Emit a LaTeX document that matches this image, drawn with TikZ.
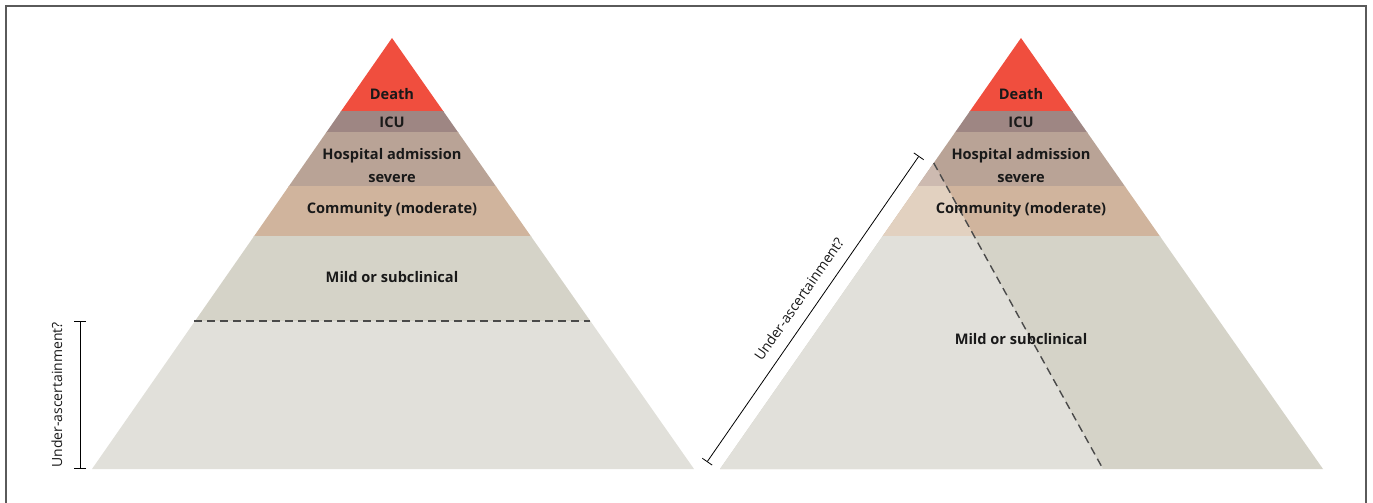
\documentclass[tikz,border=0pt]{standalone}
\usepackage{fontspec}
\setmainfont{Open Sans}
\usetikzlibrary{arrows.meta}
\definecolor{cdeath}{HTML}{F04E3E}
\definecolor{cicu}{HTML}{9E8683}
\definecolor{chosp}{HTML}{B9A396}
\definecolor{ccomm}{HTML}{D0B49D}
\definecolor{cmild}{HTML}{D5D3C8}
\definecolor{clow}{HTML}{E1E0DA}
\definecolor{chospl}{HTML}{CDBAB0}
\definecolor{ccomml}{HTML}{E2D1C0}
\definecolor{cframe}{HTML}{5A5A5A}
\definecolor{cdash}{HTML}{4A4A4A}
\begin{document}
\begin{tikzpicture}[x=1pt,y=-1pt,
  lab/.style={font=\fontsize{14.6}{23}\selectfont\bfseries, text=black!90, align=center, inner sep=0pt},
  brk/.style={line width=0.8pt, {Bar[width=12pt]}-{Bar[width=12pt]}},
  brklab/.style={font=\fontsize{14}{16}\selectfont, text=black!90},
  dashline/.style={draw=cdash, line width=1.4pt, dash pattern=on 8pt off 5pt}]
\useasboundingbox (0,0) rectangle (1373,503);
% frame
\draw[cframe, line width=1.6pt] (6,503) -- (6,6) -- (1366,6) -- (1366,503);
% ---------- left pyramid
\coordinate (LA) at (392,38);
\coordinate (LL) at (92,469);
\coordinate (LR) at (694,469);
\begin{scope}
\clip (LA) -- (LR) -- (LL) -- cycle;
\fill[cdeath] (80,30) rectangle (700,111.5);
\fill[cicu] (80,111) rectangle (700,132.5);
\fill[chosp] (80,132) rectangle (700,186.5);
\fill[ccomm] (80,186) rectangle (700,236.5);
\fill[cmild] (80,236) rectangle (700,321.5);
\fill[clow] (80,321) rectangle (700,470);
\end{scope}
\coordinate (LD1) at (194.4,321);
\coordinate (LD2) at (589.6,321);
\draw[dashline] (LD1) -- (LD2);
\node[lab] (ldeath) at (392,94) {Death};
\node[lab] (licu) at (392,122) {ICU};
\node[lab] (lhosp) at (392,165.5) {Hospital admission\\severe};
\node[lab] (lcomm) at (392,210) {Community (moderate)};
\node[lab] (lmild) at (392,277) {Mild or subclinical};
% left bracket
\coordinate (LB1) at (80,469);
\coordinate (LB2) at (80,321);
\draw[brk] (LB1) -- (LB2) node[midway, above, sloped, brklab, yshift=14pt] (lunder) {Under-ascertainment?};
% ---------- right pyramid
\coordinate (RA) at (1021,38);
\coordinate (RL) at (720,469);
\coordinate (RR) at (1323,469);
\coordinate (RD1) at (933.7,163);
\coordinate (RD2) at (1103,469);
\begin{scope}
\clip (RA) -- (RR) -- (RL) -- cycle;
\fill[cdeath] (700,30) rectangle (1330,111.5);
\fill[cicu] (700,111) rectangle (1330,132.5);
\fill[chosp] (700,132) rectangle (1330,186.5);
\fill[ccomm] (700,186) rectangle (1330,236.5);
\fill[cmild] (700,236) rectangle (1330,470);
\begin{scope}
\clip (RD1) -- (RD2) -- (700,470) -- (700,163) -- cycle;
\fill[chospl] (700,160) rectangle (1330,186.5);
\fill[ccomml] (700,186) rectangle (1330,236.5);
\fill[clow] (700,236) rectangle (1330,470);
\end{scope}
\end{scope}
\draw[dashline] (RD1) -- (RD2);
\node[lab] (rdeath) at (1021,94) {Death};
\node[lab] (ricu) at (1021,122) {ICU};
\node[lab] (rhosp) at (1021,165.5) {Hospital admission\\severe};
\node[lab] (rcomm) at (1021,210) {Community (moderate)};
\node[lab] (rmild) at (1021,339) {Mild or subclinical};
% right bracket
\coordinate (RB1) at (707,462);
\coordinate (RB2) at (919,156);
\draw[brk] (RB1) -- (RB2) node[midway, above, sloped, brklab, yshift=8pt] (runder) {Under-ascertainment?};
\end{tikzpicture}
\end{document}
